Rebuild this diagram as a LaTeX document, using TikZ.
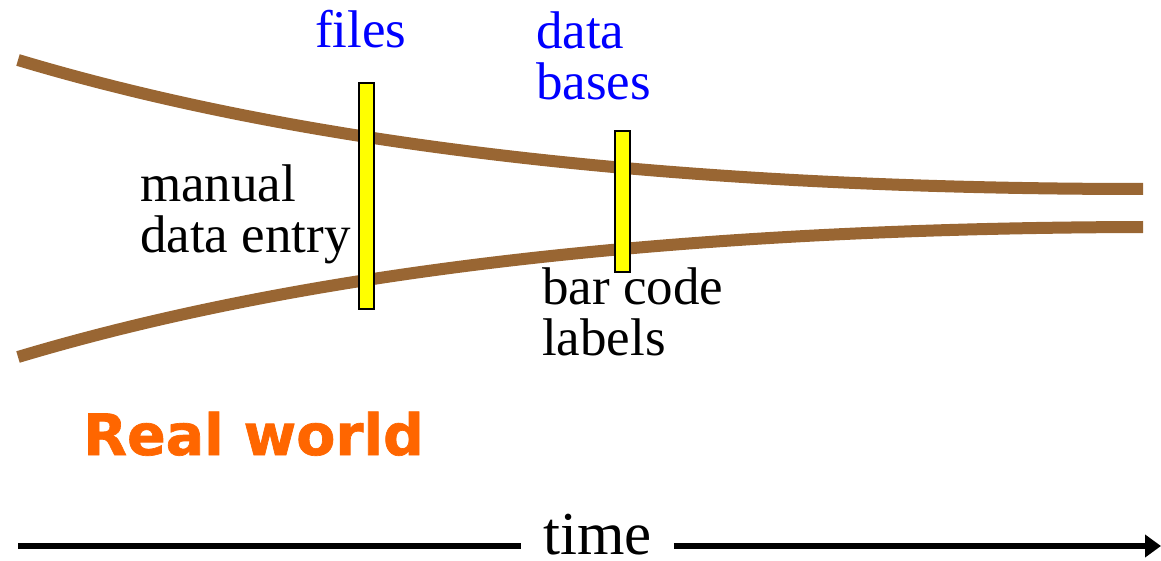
\documentclass[tikz,border=0pt]{standalone}
\usepackage{fontspec}
\setmainfont{Liberation Serif}
\newfontfamily\headfont{DejaVu Sans Bold}[FakeBold=1.2]
\usetikzlibrary{arrows.meta}
\definecolor{trackbrown}{HTML}{996633}
\definecolor{labelblue}{HTML}{0000FF}
\definecolor{worldorange}{HTML}{FF6600}
\definecolor{markyellow}{HTML}{FFFF00}
\tikzset{
  track/.style={draw=trackbrown, line width=12pt},
  marker/.style={draw=black, fill=markyellow, line width=2pt, inner sep=0pt},
  caption/.style={font=\fontsize{53}{51}\selectfont, inner sep=0pt, align=left, anchor=base west},
  storage/.style={caption, text=labelblue},
  timeline/.style={line width=6pt, black},
}
\begin{document}
\begin{tikzpicture}[x=1pt, y=-1pt]
  \useasboundingbox (0,0) rectangle (1161,561);

  % the two converging tracks
  \coordinate (u0) at (18,60);
  \coordinate (u1) at (1143,189);
  \coordinate (l0) at (18,357);
  \coordinate (l1) at (1143,227);
  \draw[track] (u0) .. controls (318,150) and (700,189) .. (u1);
  \draw[track] (l0) .. controls (318,267) and (700,228) .. (l1);

  % yellow markers across the tracks
  \path[marker] (359,83) rectangle (374,309);
  \path[marker] (615,131) rectangle (630,272);

  % labels (base anchor sits on the last line)
  \node[storage] (files) at (315,48) {files};
  \node[storage] (db) at (536,100) {data\\bases};
  \node[caption] (manual) at (140,252) {manual\\data entry};
  \node[caption] (barcode) at (542,355) {bar code\\labels};
  \node[anchor=base west, inner sep=0pt, text=worldorange,
        font=\headfont\fontsize{57}{60}\selectfont] (world) at (83,455) {Real world};

  % time axis
  \node[anchor=base, font=\fontsize{61}{64}\selectfont, inner ysep=0pt, inner xsep=22pt] (time) at (597.5,554) {time};
  \coordinate (t0) at (18,546);
  \coordinate (t1) at (1161,546);
  \draw[timeline] (t0) -- (t0 -| time.west);
  \draw[timeline, -{Triangle[length=16pt, width=22pt]}] (t1 -| time.east) -- (t1);
\end{tikzpicture}
\end{document}
